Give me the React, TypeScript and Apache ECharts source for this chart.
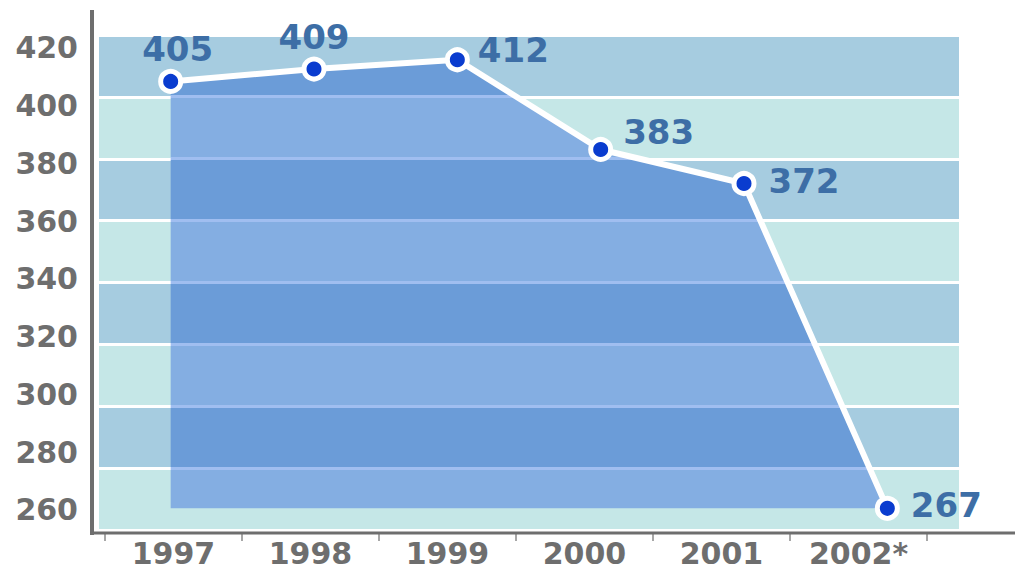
import React, { useEffect, useRef } from "react";
import * as echarts from "echarts";

// ---- data ----
const years = ["1997", "1998", "1999", "2000", "2001", "2002*"];
const values = [405, 409, 412, 383, 372, 267];
const yTicks = [260, 280, 300, 320, 340, 360, 380, 400, 420];

// ---- styling ----
const yMin = 260;
const yMax = 420;
const yStep = 20;
const bandLight = "#c5e7e7";
const bandDark = "#a6cce0";
const fillLight = "#84aee2";
const fillDark = "#6b9cd8";
const fillLine = "#a0bef0";
const labelBlue = "#3d6ea6";
const axisGray = "#6e6e6e";
const font = "DejaVu Sans";

// per-point label placement (style only)
const labelPlacement = [
  { position: "top", distance: 3, offset: [7, 0] },
  { position: "top", distance: 3 },
  { position: "right", distance: 8, offset: [0, -10] },
  { position: "right", distance: 10, offset: [0, -17] },
  { position: "right", distance: 12, offset: [0, -3] },
  { position: "right", distance: 11, offset: [0, -3] },
];

function buildFillGradient() {
  const top = Math.max(...values);
  const base = Math.min(...values);
  const hw = 0.5;
  const cuts: number[] = [top, base];
  for (let g = yMin + yStep; g < yMax; g += yStep) {
    if (g + hw < top && g - hw > base) cuts.push(g + hw, g - hw);
  }
  cuts.sort((a, b) => b - a);
  const colorAt = (v: number) => {
    for (let g = yMin + yStep; g < yMax; g += yStep) {
      if (Math.abs(v - g) < hw) return fillLine;
    }
    const band = Math.floor((v - yMin) / yStep);
    return band % 2 === 0 ? fillLight : fillDark;
  };
  const stops: { offset: number; color: string }[] = [];
  for (let i = 0; i < cuts.length - 1; i++) {
    const a = cuts[i];
    const b = cuts[i + 1];
    const c = colorAt((a + b) / 2);
    stops.push({ offset: (top - a) / (top - base), color: c });
    stops.push({ offset: (top - b) / (top - base), color: c });
  }
  return { type: "linear", x: 0, y: 0, x2: 0, y2: 1, colorStops: stops };
}

export default function App() {
  const ref = useRef<HTMLDivElement>(null);

  useEffect(() => {
    if (!ref.current) return;
    const chart = echarts.init(ref.current, undefined, { renderer: "svg" });
    const option: any = {
      animation: false,
      backgroundColor: "#ffffff",
      grid: [
        { left: 99, right: 56, top: 35, bottom: 43, outerBoundsMode: "none", containLabel: false },
        { left: 105, width: 822, top: 35, bottom: 40, outerBoundsMode: "none", containLabel: false },
      ],
      xAxis: [
        {
          type: "category",
          gridIndex: 0,
          data: years,
          boundaryGap: true,
          show: false,
        },
        {
          type: "category",
          gridIndex: 1,
          data: years,
          boundaryGap: true,
          position: "bottom",
          axisLine: { show: false },
          axisTick: {
            show: true,
            length: 8,
            lineStyle: { color: "#8a8a8a", width: 1.5 },
          },
          axisLabel: {
            margin: 5,
            fontSize: 30,
            fontWeight: "bold",
            fontFamily: font,
            color: axisGray,
          },
          splitLine: { show: false },
        },
      ],
      yAxis: [
        {
          type: "value",
          gridIndex: 0,
          position: "left",
          min: yMin,
          max: yMax,
          interval: yStep,
          axisLine: { show: false },
          axisTick: { show: false },
          axisLabel: { show: false },
          splitLine: { show: true, lineStyle: { color: "#ffffff", width: 3 } },
          splitArea: { show: true, areaStyle: { color: [bandLight, bandDark] } },
        },
        {
          type: "value",
          gridIndex: 0,
          position: "left",
          offset: 0,
          min: 253,
          max: 424.5,
          axisLine: { show: false },
          axisTick: { show: false },
          splitLine: { show: false },
          axisLabel: {
            show: true,
            customValues: yTicks,
            margin: 21,
            fontSize: 30,
            fontWeight: "bold",
            fontFamily: font,
            color: axisGray,
          },
        },
        {
          type: "value",
          gridIndex: 1,
          show: false,
        },
      ],
      graphic: [
        {
          type: "line",
          shape: { x1: 92, y1: 10, x2: 92, y2: 535 },
          style: { stroke: axisGray, lineWidth: 4 },
          z: 100,
        },
        {
          type: "line",
          shape: { x1: 90, y1: 533, x2: 1015, y2: 533 },
          style: { stroke: axisGray, lineWidth: 3 },
          z: 100,
        },
      ],
      series: [
        {
          type: "line",
          xAxisIndex: 0,
          yAxisIndex: 0,
          data: values.map((v, i) => ({ value: v, label: labelPlacement[i] })),
          lineStyle: { color: "#ffffff", width: 6 },
          symbol: "circle",
          symbolSize: 20,
          itemStyle: { color: "#0a3ccf", borderColor: "#ffffff", borderWidth: 5 },
          areaStyle: {
            origin: Math.min(...values),
            color: buildFillGradient(),
            opacity: 1,
          },
          label: {
            show: true,
            fontSize: 34,
            fontWeight: "bold",
            fontFamily: font,
            color: labelBlue,
          },
          z: 5,
        },
      ],
    };
    chart.setOption(option);
    return () => chart.dispose();
  }, []);

  return (
    <div
      ref={ref}
      style={{ position: "fixed", left: 0, top: 0, width: 1015, height: 573 }}
    />
  );
}
